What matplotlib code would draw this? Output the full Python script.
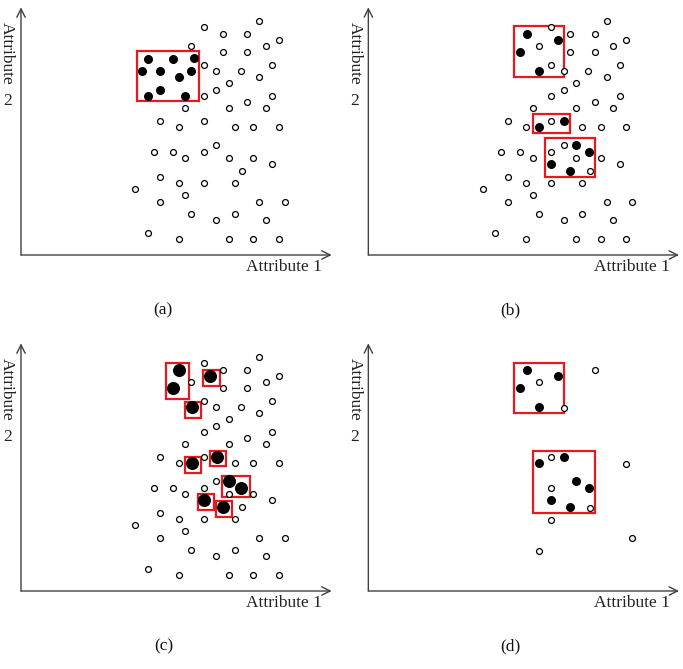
import matplotlib.pyplot as plt
import numpy as np

plt.rcParams['font.family'] = ['Liberation Serif', 'DejaVu Serif']

# Shared background points (open circles), in units relative to the axis origin
open_x = [715, 549, 605, 679, 773, 511, 734, 605, 679, 549, 754, 586, 660, 715,
          623, 586, 549, 754, 679, 493, 623, 734, 418, 549, 474, 642, 697, 773,
          586, 399, 455, 549, 493, 623, 697, 754, 664, 418, 474, 549, 642, 343,
          493, 418, 715, 791, 511, 642, 586, 734, 381, 474, 623, 697, 773]
open_y = [702, 683, 664, 664, 646, 628, 628, 608, 608, 571, 571, 552, 552, 534,
          515, 496, 478, 478, 459, 440, 440, 440, 403, 403, 384, 384, 384, 384,
          329, 309, 309, 309, 291, 291, 291, 272, 251, 234, 216, 216, 216, 197,
          179, 160, 160, 160, 123, 123, 104, 104, 67, 48, 48, 48, 48]

# (a) dense cluster
dense_x = [381, 455, 519, 362, 418, 511, 474, 418, 381, 493]
dense_y = [589, 589, 592, 552, 552, 552, 534, 496, 478, 478]

# (b)/(c)/(d) scattered cluster points
clus_x = [475, 568, 456, 512, 587, 512, 624, 661, 549, 605]
clus_y = [664, 646, 608, 552, 403, 384, 329, 309, 272, 253]

# (d) remaining open points
rest_x = [680, 512, 587, 549, 773, 549, 664, 549, 792, 512]
rest_y = [663, 626, 550, 401, 382, 308, 248, 214, 158, 121]

# boxes: (x0, x1, y0, y1)
boxes_a = [(347, 535, 462, 612)]
boxes_b = [(436, 587, 535, 686), (495, 606, 365, 424), (530, 680, 235, 350)]
boxes_c = [(436, 503, 577, 685), (547, 597, 615, 663), (492, 540, 520, 568),
           (567, 614, 375, 421), (492, 540, 355, 402), (604, 688, 282, 345),
           (531, 578, 243, 290), (586, 634, 223, 270)]
boxes_d = [(436, 587, 534, 684), (494, 680, 235, 421)]

W, H = 683, 669
fig = plt.figure(figsize=(W / 100, H / 100), dpi=100)

RED = '#e8181c'
AX = '#404040'


def make_panel(x0, y0, w, h, ox, oy, label):
    ax = fig.add_axes([x0 / W, 1 - (y0 + h) / H, w / W, h / H])
    ax.set_xlim((x0 - ox) * 3, (x0 + w - ox) * 3)
    ax.set_ylim((oy - (y0 + h)) * 3, (oy - y0) * 3)
    ax.axis('off')
    ax.annotate('', xy=(932, 0), xytext=(0, 0),
                arrowprops=dict(arrowstyle='->,head_length=0.6,head_width=0.3',
                                color=AX, lw=1.0, shrinkA=0, shrinkB=0))
    ax.annotate('', xy=(0, 743), xytext=(0, 0),
                arrowprops=dict(arrowstyle='->,head_length=0.6,head_width=0.3',
                                color=AX, lw=1.0, shrinkA=0, shrinkB=0))
    ax.text(790, -36, 'Attribute 1', ha='center', va='center', fontsize=12.5, color='#222222')
    ax.text(-42, 605, 'Attribute', ha='center', va='center', rotation=-90,
            fontsize=12.5, color='#222222')
    ax.text(-41, 463, '2', ha='center', va='center', fontsize=12.5, color='#222222')
    ax.text(427, -165, label, ha='center', va='center', fontsize=12.5, color='#111111')
    return ax


def draw_open(ax, xs, ys):
    ax.scatter(xs, ys, s=18, facecolors='white', edgecolors='black', linewidths=0.9, zorder=3)


def draw_filled(ax, xs, ys, size=30):
    ax.scatter(xs, ys, s=size, color='black', zorder=3)


def draw_boxes(ax, boxes):
    for bx0, bx1, by0, by1 in boxes:
        ax.add_patch(plt.Rectangle((bx0, by0), bx1 - bx0, by1 - by0, fill=False,
                                   edgecolor=RED, lw=1.6, zorder=2))


ax_a = make_panel(0, 0, 340, 320, 21, 255, '(a)')
draw_open(ax_a, open_x, open_y)
draw_filled(ax_a, dense_x, dense_y)
draw_boxes(ax_a, boxes_a)

ax_b = make_panel(340, 0, 343, 320, 340 + 85 / 3, 255, '(b)')
draw_open(ax_b, open_x, open_y)
draw_filled(ax_b, clus_x, clus_y)
draw_boxes(ax_b, boxes_b)

ax_c = make_panel(0, 330, 340, 339, 21, 591, '(c)')
draw_open(ax_c, open_x, open_y)
draw_filled(ax_c, clus_x, clus_y, size=70)
draw_boxes(ax_c, boxes_c)

ax_d = make_panel(340, 330, 343, 339, 340 + 85 / 3, 591, '(d)')
draw_open(ax_d, rest_x, rest_y)
draw_filled(ax_d, clus_x, clus_y)
draw_boxes(ax_d, boxes_d)

fig.savefig('out.png', dpi=100)
